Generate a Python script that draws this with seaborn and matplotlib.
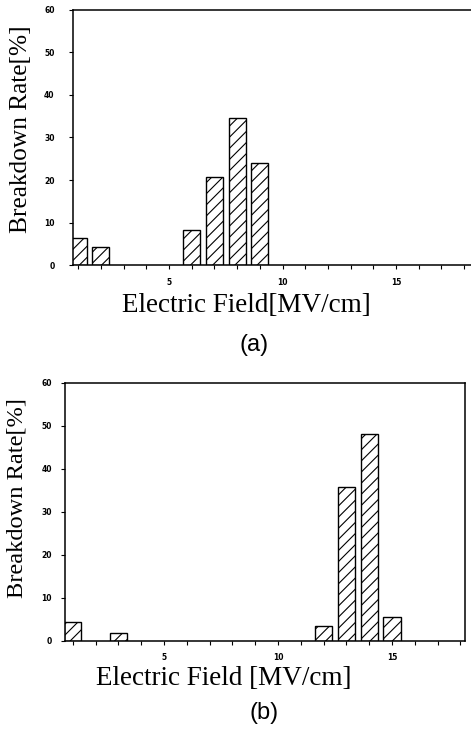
import matplotlib
matplotlib.use("Agg")
import matplotlib.pyplot as plt
import seaborn as sns
import pandas as pd
from matplotlib.ticker import MultipleLocator

# Breakdown-rate histograms for two sets of capacitors
field_a = [1, 2, 6, 7, 8, 9]
rate_a = [6.3, 4.4, 8.2, 20.8, 34.6, 24.1]

field_b = [1, 3, 12, 13, 14, 15]
rate_b = [4.3, 1.7, 3.5, 35.8, 48.1, 5.6]

y_ticks = [0, 10, 20, 30, 40, 50, 60]
x_major = [5, 10, 15]
panel_tags = ["(a)", "(b)"]
x_titles = ["Electric Field[MV/cm]", "Electric Field [MV/cm]"]
y_title = "Breakdown Rate[%]"

sns.set_theme(style="ticks")
plt.rcParams["hatch.linewidth"] = 0.8
plt.rcParams["hatch.color"] = "black"
plt.rcParams["text.color"] = "black"

label_font = ["Liberation Serif", "DejaVu Serif"]

fig = plt.figure(figsize=(4.71, 7.31), dpi=100)
W, H = 471, 731


def px_axes(left, top, right, bottom):
    return fig.add_axes([left / W, 1 - bottom / H, (right - left) / W, (bottom - top) / H])


ax_a = px_axes(72.7, 9.5, 471, 265.3)
ax_b = px_axes(65, 382.7, 465, 640.7)

# axes, x, y, xlim, ylabel size, ylabel centre, xlabel baseline, y pad, x pad
panels = [
    (ax_a, field_a, rate_a, (0.76, 18.3), 18.3, (-0.1298, 0.533), (0.435, -0.1814), 10, 6.5),
    (ax_b, field_b, rate_b, (0.66, 18.2), 17.6, (-0.12, 0.553), (0.3975, -0.1717), 6.5, 5.6),
]

for i, (ax, fx, ry, xlim, ysz, ylab_pos, xlab_pos, ypad, xpad) in enumerate(panels):
    df = pd.DataFrame({"field": fx, "rate": ry})
    sns.barplot(data=df, x="field", y="rate", native_scale=True, width=0.75,
                color="white", ax=ax, errorbar=None)
    for p in ax.patches:
        p.set_facecolor("white")
        p.set_edgecolor("black")
        p.set_linewidth(1.0)
        p.set_hatch("///")
    ax.set_xlim(*xlim)
    ax.set_ylim(0, 60)
    ax.set_yticks(y_ticks)
    ax.set_xticks(x_major)
    ax.xaxis.set_minor_locator(MultipleLocator(1))
    ax.tick_params(axis="both", which="both", direction="out", length=3, width=0.8,
                   labelsize=5.5, colors="black")
    ax.tick_params(axis="x", which="major", pad=xpad)
    ax.tick_params(axis="y", which="major", pad=ypad)
    for lab in ax.get_xticklabels() + ax.get_yticklabels():
        lab.set_fontweight("bold")
    for s in ax.spines.values():
        s.set_linewidth(1.1)
        s.set_color("black")
    if i == 0:
        ax.spines["right"].set_visible(False)
    ax.set_ylabel(y_title, fontsize=ysz, family=label_font, color="black",
                  va="center", ha="center")
    ax.yaxis.set_label_coords(*ylab_pos)
    ax.set_xlabel(x_titles[i], fontsize=19.5, family=label_font, color="black",
                  va="baseline", ha="center")
    ax.xaxis.set_label_coords(*xlab_pos)
    ax.set_facecolor("white")

fig.text(254 / W, 1 - 345 / H, panel_tags[0], ha="center", va="center",
         fontsize=17, family="Liberation Sans", color="black")
fig.text(264 / W, 1 - 713 / H, panel_tags[1], ha="center", va="center",
         fontsize=17, family="Liberation Sans", color="black")

fig.savefig("out.png", dpi=100, facecolor="white")
